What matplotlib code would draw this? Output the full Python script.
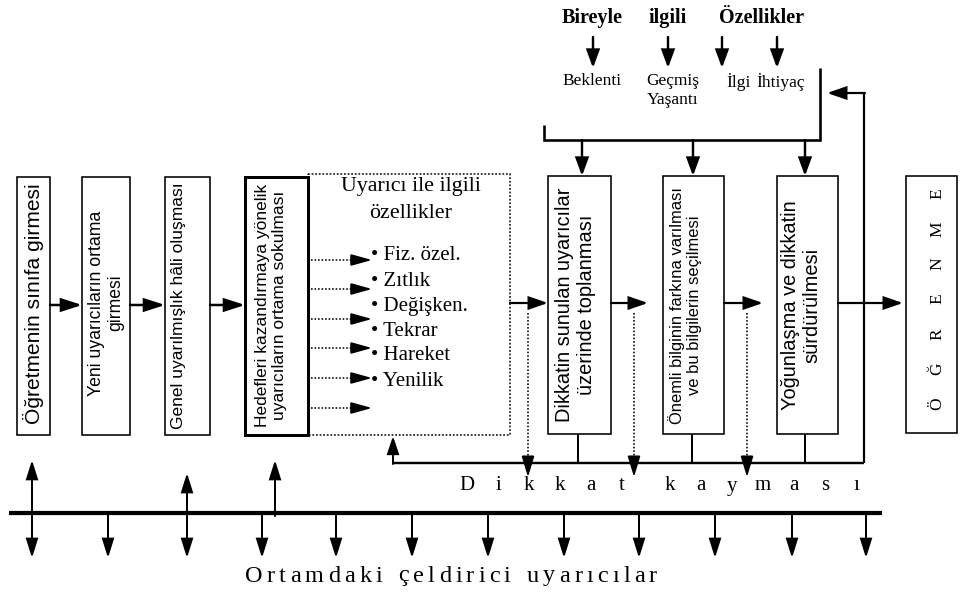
import matplotlib
matplotlib.use("Agg")
import matplotlib.pyplot as plt
from matplotlib.patches import Rectangle, FancyArrowPatch

# ---------------- data: texts of the diagram ----------------
step_labels = ["Öğretmenin sınıfa girmesi",
               "Yeni uyarıcıların ortama\ngirmesi",
               "Genel uyarılmışlık hâli oluşması",
               "Hedefleri kazandırmaya yönelik\nuyarıcıların ortama sokulması"]
attention_labels = ["Dikkatin sunulan uyarıcılar\nüzerinde toplanması",
                    "Önemli bilginin farkına varılması\nve bu bilgilerin seçilmesi",
                    "Yoğunlaşma ve dikkatin\nsürdürülmesi"]
stimulus_title = "Uyarıcı ile ilgili\nözellikler"
stimulus_features = ["Fiz. özel.", "Zıtlık", "Değişken.", "Tekrar", "Hareket", "Yenilik"]
individual_title = ["Bireyle", "ilgili", "Özellikler"]
individual_features = ["Beklenti", "Geçmiş\nYaşantı", "İlgi", "İhtiyaç"]
outcome_letters = ["Ö", "Ğ", "R", "E", "N", "M", "E"]
shift_words = ["Dikkat", "kayması"]
distractor_label = "Ortamdaki çeldirici uyarıcılar"

SERIF = ["Liberation Serif", "DejaVu Serif"]
SANS = ["Liberation Sans", "DejaVu Sans"]

fig = plt.figure(figsize=(9.61, 5.94), dpi=100)
ax = fig.add_axes([0, 0, 1, 1])
ax.set_xlim(0, 961)
ax.set_ylim(594, 0)
ax.axis("off")
renderer = fig.canvas.get_renderer()
PT = 72 / 100.0  # pixel -> points


def line(xs, ys, lw=1.5, ls="-", color="black"):
    ax.plot(xs, ys, color=color, lw=lw * PT, ls=ls,
            solid_capstyle="butt", solid_joinstyle="miter")


def arrow(x0, y0, x1, y1, lw=2.0, hl=15, hw=10):
    ms = 10
    s = ms * 100 / 72.0
    style = f"-|>,head_length={hl / s:.3f},head_width={hw / 2 / s:.3f}"
    ax.add_patch(FancyArrowPatch((x0, y0), (x1, y1), arrowstyle=style,
                                 mutation_scale=ms, lw=lw * PT, color="black",
                                 shrinkA=0, shrinkB=0, joinstyle="miter"))


def dotted_arrow(x0, y0, x1, y1, lw=1.5, hl=13, hw=9):
    # dotted shaft, solid head
    if x0 == x1:
        d = 1 if y1 > y0 else -1
        line([x0, x0], [y0, y1 - d * (hl - 2)], lw=lw, ls=(0, (1, 1.2)))
        arrow(x0, y1 - d * (hl + 2), x1, y1, lw=lw, hl=hl, hw=hw)
    else:
        d = 1 if x1 > x0 else -1
        line([x0, x1 - d * (hl - 2)], [y0, y0], lw=lw, ls=(0, (1, 1.2)))
        arrow(x1 - d * (hl + 2), y0, x1, y1, lw=lw, hl=hl, hw=hw)


def fit_text(x, y, s, length, rot=0, family=SANS, base=12, **kw):
    kw.setdefault("ha", "center")
    kw.setdefault("va", "center")
    t = ax.text(x, y, s, fontsize=base, rotation=rot, family=family,
                multialignment="center", **kw)
    bb = t.get_window_extent(renderer)
    cur = bb.height if rot == 90 else bb.width
    t.set_fontsize(base * length / cur)
    return t


def tracked_text(x_left, x_right, y, s, fontsize, family=SERIF, space=0.3):
    """Letter-spaced text: each glyph is a real text object, advance-based."""
    def width(txt):
        t = ax.text(0, 0, txt, fontsize=fontsize, family=family)
        w = t.get_window_extent(renderer).width
        t.remove()
        return w
    ref = width("|")
    adv = []
    for ch in s:
        if ch == " ":
            adv.append(space * fontsize * 100 / 72.0)
        else:
            adv.append(width("|" + ch + "|") - 2 * ref)
    gap = (x_right - x_left - sum(adv)) / (len(s) - 1)
    x = x_left
    for ch, w in zip(s, adv):
        if ch != " ":
            ax.text(x + w / 2, y, ch, fontsize=fontsize, family=family,
                    ha="center", va="center")
        x += w + gap


def box(x0, x1, y0, y1, lw=1.6, ls="-"):
    ax.add_patch(Rectangle((x0, y0), x1 - x0, y1 - y0, fill=False,
                           ec="black", lw=lw * PT, ls=ls, joinstyle="miter"))


# ---------------- left step boxes ----------------
BOX_TOP, BOX_BOT = 177, 435
step_x = [(17, 50), (82, 130), (165, 210), (245, 308)]
step_text_pos = [(33, 304, 241), (106, 303, 187), (179, 306, 247), (271, 305, 244)]

# dotted stimulus box
box(308, 510, 174, 435, lw=1.5, ls=(0, (1.2, 1.2)))
for i, (x0, x1) in enumerate(step_x):
    box(x0, x1, BOX_TOP, BOX_BOT, lw=3.0 if i == 3 else 1.6)
    tx, ty, L = step_text_pos[i]
    fit_text(tx, ty, step_labels[i], L, rot=90)

for (a, b) in [(50, 82), (130, 165), (210, 245)]:
    arrow(a, 305, b, 305, lw=2.5, hl=17, hw=11)

# stimulus box content
fit_text(411, 200, stimulus_title, 140, family=SERIF, linespacing=1.5)
feat_fs = 15
for i, f in enumerate(stimulus_features):
    ax.text(371, 256 + 25 * i, "• " + f, fontsize=feat_fs, family=SERIF,
            ha="left", va="center")
for y in [260, 289, 319, 348, 378, 408]:
    dotted_arrow(311, y, 372, y, lw=1.6, hl=18, hw=10)

arrow(510, 303, 548, 303, lw=2.2, hl=16, hw=11)

# ---------------- attention boxes ----------------
att_x = [(548, 611), (663, 724), (777, 838)]
att_text_pos = [(575, 305, 236), (685, 305, 236), (801, 305, 210)]
for i, (x0, x1) in enumerate(att_x):
    box(x0, x1, 176, 434, lw=1.6)
    tx, ty, L = att_text_pos[i]
    fit_text(tx, ty, attention_labels[i], L, rot=90)

arrow(611, 303, 648, 303, lw=2.2, hl=16, hw=11)
arrow(724, 303, 763, 303, lw=2.2, hl=16, hw=11)
arrow(838, 303, 903, 303, lw=2.2, hl=16, hw=11)

# outcome box
box(906, 957, 176, 433, lw=1.6)
for i, ch in enumerate(outcome_letters):
    ax.text(937, 404 - 35 * i, ch, fontsize=12.5, family=SERIF, rotation=90,
            ha="center", va="center")

# ---------------- individual characteristics (top) ----------------
for x, w in zip([592, 668, 762], individual_title):
    ax.text(x, 18, w, fontsize=14.5, family=SERIF, fontweight="bold",
            ha="center", va="center")
for x in [593, 668, 722, 777]:
    arrow(x, 37, x, 68, lw=2.4, hl=15, hw=11)
for x, w in zip([592, 673, 739, 781], individual_features):
    ax.text(x, 73, w, fontsize=12.5, family=SERIF, ha="center", va="top",
            linespacing=1.25)

line([544, 544, 820, 820], [125, 140, 140, 68], lw=2.6)
for x in [582, 693, 805]:
    arrow(x, 140, x, 176, lw=2.4, hl=15, hw=11)

# feedback line
line([864, 864], [463, 93], lw=2.2)
arrow(865, 93, 827, 93, lw=2.2, hl=16, hw=11)

# ---------------- attention shift (bottom) ----------------
line([393, 864], [463, 463], lw=2.4)
arrow(393, 464, 393, 436, lw=2.0, hl=15, hw=10)
for x in [578, 692, 805]:
    line([x, x], [434, 463], lw=2.0)
for x in [528, 634, 747]:
    dotted_arrow(x, 313, x, 477, lw=1.6, hl=18, hw=11)

step = 31
xpos = 467
for wi, word in enumerate(shift_words):
    for ch in word:
        ax.text(xpos, 486, ch, fontsize=15, family=SERIF, ha="center",
                va="center")
        xpos += step
    xpos += 17

# distractors
line([9, 882], [513, 513], lw=4.2)
for x in [32, 108, 187, 262, 336, 412, 488, 564, 639, 715, 792, 866]:
    arrow(x, 513, x, 558, lw=2.0, hl=16, hw=10)
for x, tip in [(32, 460), (187, 473), (275, 460)]:
    arrow(x, 516, x, tip, lw=2.0, hl=16, hw=10)

tracked_text(245, 657, 576, distractor_label, 17.5, family=SERIF, space=0.3)

fig.savefig("out.png", dpi=100, facecolor="white")
